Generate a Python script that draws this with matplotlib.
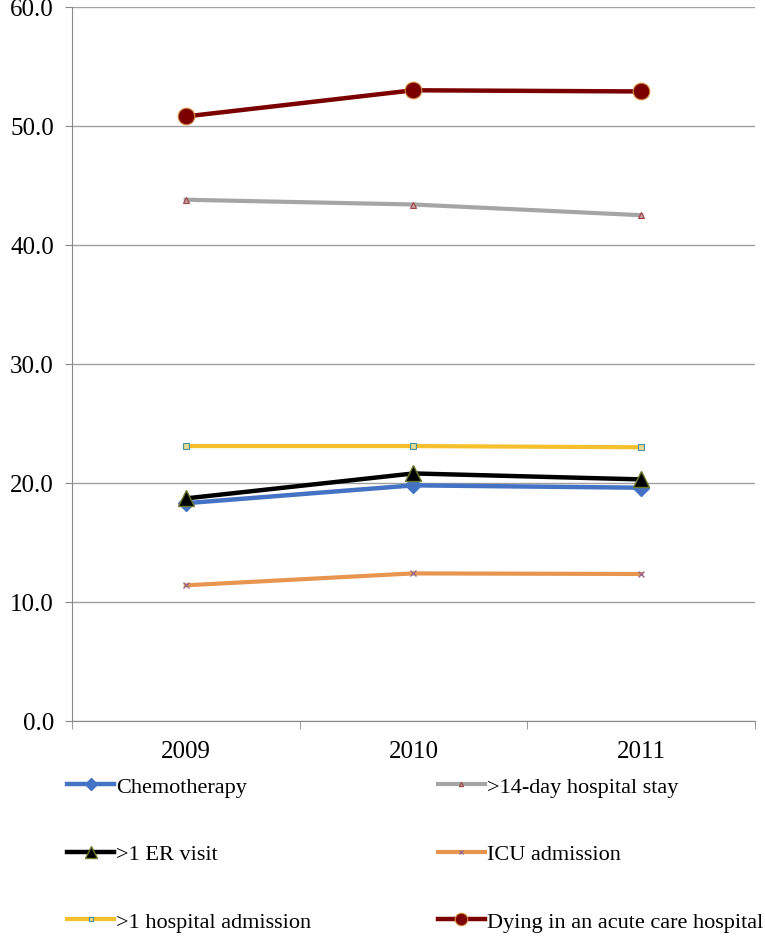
import matplotlib.pyplot as plt

plt.rcParams['font.family'] = ['Liberation Serif', 'DejaVu Serif']

years = ['2009', '2010', '2011']
chemo = [18.3, 19.8, 19.6]
stay14 = [43.8, 43.4, 42.5]
er_visit = [18.7, 20.8, 20.3]
icu = [11.4, 12.4, 12.35]
hosp_adm = [23.1, 23.1, 23.0]
dying = [50.8, 53.0, 52.9]

fig = plt.figure(figsize=(7.65, 9.37), dpi=100)
ax = fig.add_axes([0.094, 0.2295, 0.893, 0.762])

x = range(len(years))
# order matters for drawing: top ones last
l_stay, = ax.plot(x, stay14, color='#A5A5A5', lw=3, marker='^', ms=4,
                  mfc='#C0A0A0', mec='#A04040', mew=0.8, label='>14-day hospital stay')
l_icu, = ax.plot(x, icu, color='#E8964F', lw=3, marker='x', ms=4,
                 mec='#9A6A8A', mew=1, label='ICU admission')
l_hosp, = ax.plot(x, hosp_adm, color='#F5C02C', lw=3, marker='s', ms=4,
                  mfc='#E8D890', mec='#4A90A0', mew=0.8, label='>1 hospital admission')
l_chemo, = ax.plot(x, chemo, color='#4472C4', lw=3.2, marker='D', ms=8,
                   mfc='#4472C4', mec='#4472C4', label='Chemotherapy')
l_er, = ax.plot(x, er_visit, color='black', lw=3.2, marker='^', ms=11,
                mfc='black', mec='#6B7A2A', mew=1, label='>1 ER visit')
l_dy, = ax.plot(x, dying, color='#7B0000', lw=3.2, marker='o', ms=12,
                mfc='#7B0000', mec='#D89040', mew=0.8, label='Dying in an acute care hospital')

ax.set_xlim(-0.5, 2.5)
ax.set_ylim(0, 60)
ax.set_yticks(range(0, 61, 10))
ax.set_yticklabels([f'{v:.1f}' for v in range(0, 61, 10)])
ax.set_xticks(list(x))
ax.set_xticklabels(years)
ax.set_xticks([-0.5, 0.5, 1.5, 2.5], minor=True)
ax.tick_params(axis='x', which='major', length=0, pad=14, labelsize=18)
ax.tick_params(axis='x', which='minor', length=6, color='#888888')
ax.tick_params(axis='y', length=5, color='#888888', labelsize=18, pad=8)
ax.yaxis.grid(True, color='#A0A0A0', lw=1)
ax.set_axisbelow(True)
for s in ['top', 'right']:
    ax.spines[s].set_visible(False)
ax.spines['left'].set_color('#888888')
ax.spines['bottom'].set_color('#888888')

handles = [l_chemo, l_er, l_hosp, l_stay, l_icu, l_dy]
fig.legend(handles=handles, labels=[h.get_label() for h in handles],
           loc='upper left', bbox_to_anchor=(0.088, 0.1705), ncol=2,
           frameon=False, fontsize=16, handlelength=2.1, handletextpad=0.1,
           labelspacing=2.12, columnspacing=5.7, markerscale=0.75,
           borderpad=0, borderaxespad=0)

fig.savefig('out.png', dpi=100)
